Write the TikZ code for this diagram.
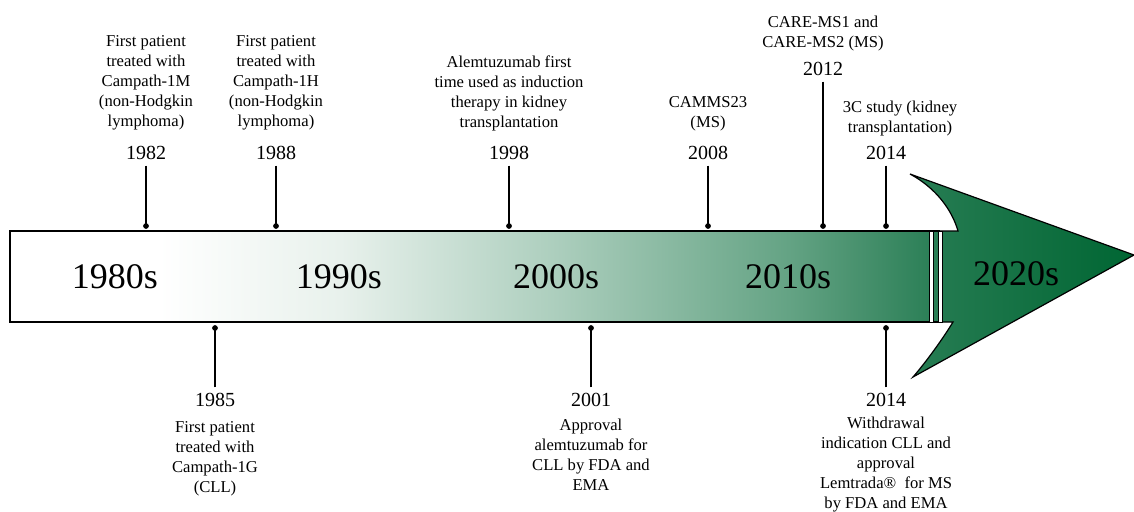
\documentclass[tikz,border=0pt]{standalone}
\usepackage{fontspec}
\setmainfont{Liberation Serif}
\usetikzlibrary{positioning,arrows.meta}
\definecolor{fadeA}{RGB}{232,241,236}
\definecolor{fadeB}{RGB}{172,206,189}
\definecolor{fadeC}{RGB}{100,163,132}
\definecolor{fadeD}{RGB}{40,125,84}
\definecolor{headA}{RGB}{40,125,84}
\definecolor{headB}{RGB}{0,102,51}
\pgfdeclarehorizontalshading{barfade}{100bp}{color(0bp)=(white); color(25bp)=(white); color(33bp)=(white); color(42.8bp)=(fadeA); color(54.4bp)=(fadeB); color(66.9bp)=(fadeC); color(75bp)=(fadeD); color(100bp)=(fadeD)}
\begin{document}
\begin{tikzpicture}[x=1pt,y=-1pt,
  year/.style={font=\fontsize{20}{24}\selectfont, inner sep=0pt, outer sep=6pt},
  note/.style={font=\fontsize{16.6}{20}\selectfont, align=center, inner sep=0pt},
  decade/.style={font=\fontsize{36}{40}\selectfont, inner sep=0pt},
  tick/.style={line width=1.6pt, -{Circle[length=5.6pt]}}]
\useasboundingbox (0,0) rectangle (1134,511);
% the bar and the arrow head
\shadedraw[shading=barfade, line width=1.2pt] (10,231) rectangle (939,322);
\shadedraw[left color=headA, right color=headB, line width=1.2pt] (939,231) -- (958,231)
  .. controls (952,210) and (936,188) .. (910,174) -- (1134,255) -- (913,377)
  .. controls (926,362) and (942,340) .. (953,322) -- (939,322);
\foreach \sx in {929.5,938.5}
  \filldraw[fill=white, line width=0.9pt] (\sx,231) rectangle ++(3.6,91);
% decades
\node[decade] (d1980) at (115,277) {1980s};
\node[decade] (d1990) at (339,277) {1990s};
\node[decade] (d2000) at (556,277) {2000s};
\node[decade] (d2010) at (788,277) {2010s};
\node[decade] (d2020) at (1016,274) {2020s};
% events above the bar
\node[year] (y1982) at (146,153) {1982};
\node[note, above=10pt of y1982] (n1982) {First patient\\treated with\\Campath-1M\\(non-Hodgkin\\lymphoma)};
\coordinate (b1982) at (146,228.8);
\draw[tick] (y1982) -- (b1982);
\node[year] (y1988) at (276,153) {1988};
\node[note, above=10pt of y1988] (n1988) {First patient\\treated with\\Campath-1H\\(non-Hodgkin\\lymphoma)};
\coordinate (b1988) at (276,228.8);
\draw[tick] (y1988) -- (b1988);
\node[year] (y1998) at (509,153) {1998};
\node[note, above=9pt of y1998] (n1998) {Alemtuzumab first\\time used as induction\\therapy in kidney\\transplantation};
\coordinate (b1998) at (509,228.8);
\draw[tick] (y1998) -- (b1998);
\node[year] (y2008) at (708,153) {2008};
\node[note, above=9pt of y2008] (n2008) {CAMMS23\\(MS)};
\coordinate (b2008) at (708,228.8);
\draw[tick] (y2008) -- (b2008);
\node[year] (y2012) at (823,69) {2012};
\node[note, above=5pt of y2012] (n2012) {CARE-MS1 and\\CARE-MS2 (MS)};
\coordinate (b2012) at (823,228.8);
\draw[tick] (y2012) -- (b2012);
\node[year] (y2014a) at (886,153) {2014};
\node[note, above=4pt of y2014a, xshift=14pt] (n2014a) {3C study (kidney\\transplantation)};
\coordinate (b2014a) at (886,228.8);
\draw[tick] (y2014a) -- (b2014a);
% events below the bar
\node[year] (y1985) at (215,400) {1985};
\node[note, below=9pt of y1985] (n1985) {First patient\\treated with\\Campath-1G\\(CLL)};
\coordinate (b1985) at (215,325.2);
\draw[tick] (y1985) -- (b1985);
\node[year] (y2001) at (591,400) {2001};
\node[note, below=6pt of y2001] (n2001) {Approval\\alemtuzumab for\\CLL by FDA and\\EMA};
\coordinate (b2001) at (591,325.2);
\draw[tick] (y2001) -- (b2001);
\node[year] (y2014b) at (886,400) {2014};
\node[note, below=4pt of y2014b] (n2014b) {Withdrawal\\indication CLL and\\approval\\Lemtrada®~ for MS\\by FDA and EMA};
\coordinate (b2014b) at (886,325.2);
\draw[tick] (y2014b) -- (b2014b);
\end{tikzpicture}
\end{document}
